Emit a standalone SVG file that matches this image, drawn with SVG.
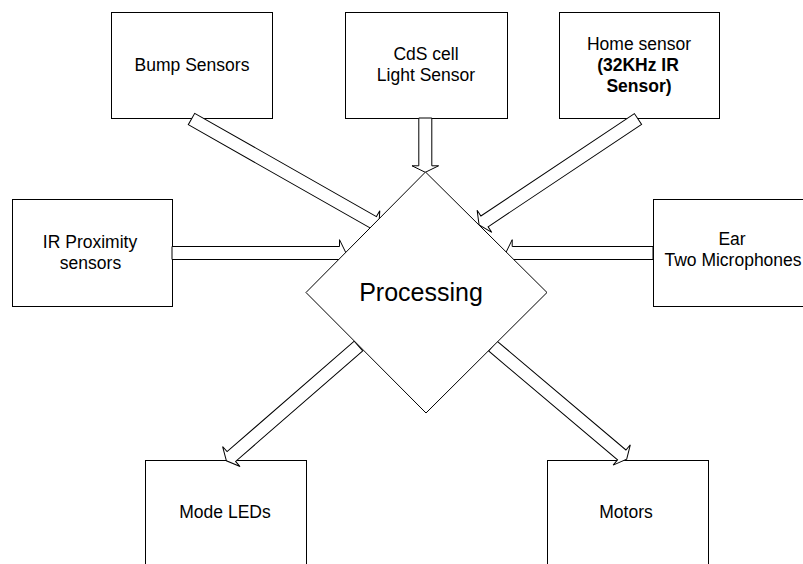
<svg xmlns="http://www.w3.org/2000/svg" width="803" height="564" viewBox="0 0 803 564">
<style>
.box{fill:#fff;stroke:#000;stroke-width:1}
.arr{fill:#fff;stroke:#000;stroke-width:1;stroke-linejoin:miter}
.t{font-family:"Liberation Sans",Arial,sans-serif;font-size:17.5px;fill:#000;text-anchor:middle}
.b{font-weight:bold}
.p{font-family:"Liberation Sans",Arial,sans-serif;font-size:25px;fill:#000;text-anchor:middle}
</style>
<rect width="803" height="564" fill="#fff"/>
<g id="bump"><rect class="box" x="111.5" y="12.5" width="161" height="106"/><text class="t" x="192" y="71">Bump Sensors</text></g>
<g id="cds"><rect class="box" x="345.5" y="12.5" width="162" height="106"/><text class="t" x="426" y="60">CdS cell</text><text class="t" x="426" y="81">Light Sensor</text></g>
<g id="home"><rect class="box" x="559.5" y="12.5" width="160" height="106"/><text class="t" x="639" y="49.5">Home sensor</text><text class="t b" x="638" y="70.5">(32KHz IR</text><text class="t b" x="639" y="91.5">Sensor)</text></g>
<g id="irprox"><rect class="box" x="12.5" y="199.5" width="160" height="107"/><text class="t" x="90" y="248">IR Proximity</text><text class="t" x="90.5" y="269">sensors</text></g>
<g id="ear"><rect class="box" x="653.5" y="199.5" width="170" height="107"/><text class="t" x="732" y="245">Ear</text><text class="t" x="733" y="266">Two Microphones</text></g>
<g id="modeleds"><rect class="box" x="145.5" y="460.5" width="161" height="120"/><text class="t" x="225" y="518">Mode LEDs</text></g>
<g id="motors"><rect class="box" x="547.5" y="460.5" width="161" height="120"/><text class="t" x="626" y="518">Motors</text></g>
<g id="connectors">
<polygon class="arr" transform="translate(191.5,119) rotate(29.6)" points="0,-6.5 209,-6.5 209,-13.3 215.5,0 209,13.3 209,6.5 0,6.5"/>
<polygon class="arr" transform="translate(425.3,118) rotate(90)" points="0,-6.5 47.8,-6.5 47.8,-13.3 54.3,0 47.8,13.3 47.8,6.5 0,6.5"/>
<polygon class="arr" transform="translate(638,119) rotate(146.3)" points="0,-6.5 184.5,-6.5 184.5,-13.3 191,0 184.5,13.3 184.5,6.5 0,6.5"/>
<polygon class="arr" transform="translate(172,253) rotate(0)" points="0,-6.5 167.5,-6.5 167.5,-13.3 174,0 167.5,13.3 167.5,6.5 0,6.5"/>
<polygon class="arr" transform="translate(653,253) rotate(180)" points="0,-6.5 140.8,-6.5 140.8,-13.3 147.3,0 140.8,13.3 140.8,6.5 0,6.5"/>
<polygon class="arr" transform="translate(358.5,346) rotate(139)" points="0,-6.5 168.5,-6.5 168.5,-13.3 175,0 168.5,13.3 168.5,6.5 0,6.5"/>
<polygon class="arr" transform="translate(492.8,346) rotate(40.2)" points="0,-6.5 168.8,-6.5 168.8,-13.3 175.3,0 168.8,13.3 168.8,6.5 0,6.5"/>
</g>
<g id="processing"><polygon class="box" points="425.5,172 547,292.5 426,413 306,292.5"/><text class="p" x="421" y="301">Processing</text></g>
</svg>
